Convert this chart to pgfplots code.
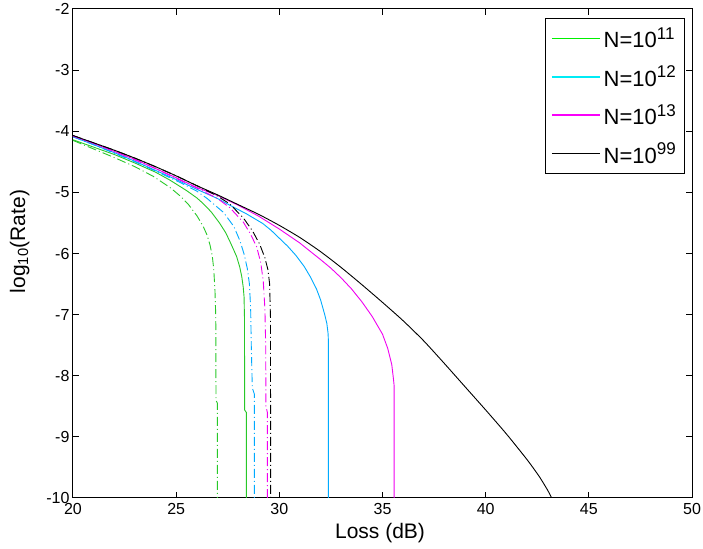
\documentclass[border=0pt]{standalone}
\usepackage{fontspec}
\setmainfont{Liberation Sans}
\usepackage{pgfplots}
\pgfplotsset{compat=1.18}
\definecolor{cgreen}{RGB}{40,200,40}
\definecolor{cblue}{RGB}{0,170,255}
\definecolor{cmag}{RGB}{240,0,240}
\definecolor{lgreen}{RGB}{0,240,0}
\definecolor{lcyan}{RGB}{0,235,245}
\definecolor{lmag}{RGB}{250,0,250}
\newcommand{\supx}[1]{\raisebox{8.5pt}{\fontsize{17}{17}\selectfont #1}}
\begin{document}
\begin{tikzpicture}
\begin{axis}[
  scale only axis, width=619pt, height=489pt,
  xmin=20, xmax=50, ymin=-10, ymax=-2,
  xtick={20,25,...,50}, ytick={-10,-9,...,-2},
  tick align=inside, major tick length=6pt,
  axis line style={line width=1pt},
  every tick/.style={black, line width=1pt},
  tick label style={font=\fontsize{16}{19}\selectfont},
  xticklabel style={yshift=-1.5pt},
  /pgf/number format/assume math mode=true,
  xlabel={Loss (dB)}, ylabel={log\textsubscript{10}(Rate)},
  label style={font=\fontsize{21}{25}\selectfont},
  xlabel style={at={(axis description cs:0.496,-0.0838)}, anchor=base},
  ylabel style={at={(axis description cs:-0.0775,0.5245)}, anchor=base},
  legend image code/.code={\draw[#1, line width=1.6pt] (0pt,0pt) -- (48pt,0pt);},
  legend style={at={(1,1)}, anchor=north east, xshift=-6.7pt, yshift=-9.3pt,
    draw=black, line width=1pt, font=\fontsize{22}{26}\selectfont,
    inner xsep=6pt, inner ysep=6pt, nodes={inner sep=3pt}, row sep=10.5pt},
  legend cell align=left,
  every axis plot/.append style={line width=0.9pt},
]
\coordinate (SW) at (rel axis cs:0,0);
\coordinate (NE) at (rel axis cs:1,1);
\addlegendimage{lgreen}\addlegendentry{N=10\supx{11}}
\addlegendimage{lcyan}\addlegendentry{N=10\supx{12}}
\addlegendimage{lmag}\addlegendentry{N=10\supx{13}}
\addlegendimage{black}\addlegendentry{N=10\supx{99}}
% solid
\addplot[cgreen, forget plot] coordinates {(20,-4.14) (21,-4.26) (22,-4.38) (23,-4.52) (24,-4.67) (24.7,-4.80) (25.5,-4.97) (26,-5.09) (26.3,-5.18) (26.7,-5.32) (27.1,-5.50) (27.4,-5.66) (27.6,-5.80) (27.8,-5.95) (27.93,-6.05) (28.08,-6.22) (28.18,-6.38) (28.25,-6.55) (28.29,-6.71) (28.31,-7.04) (28.32,-8.56) (28.4,-8.6) (28.4,-10)};
\addplot[cblue, forget plot] coordinates {(20,-4.09) (21,-4.22) (22,-4.35) (23,-4.49) (24,-4.64) (25,-4.79) (26,-4.95) (27,-5.10) (27.6,-5.21) (28.4,-5.35) (29.2,-5.51) (29.6,-5.62) (30,-5.75) (30.4,-5.88) (30.8,-6.03) (31.2,-6.21) (31.5,-6.38) (31.8,-6.58) (32,-6.76) (32.2,-7.0) (32.3,-7.14) (32.36,-7.3) (32.38,-7.44) (32.38,-10)};
\addplot[cmag, forget plot] coordinates {(20,-4.08) (21,-4.20) (22,-4.33) (23,-4.46) (24,-4.61) (25,-4.76) (26,-4.92) (27,-5.05) (28,-5.21) (29,-5.39) (30,-5.60) (31,-5.83) (32,-6.10) (32.5,-6.24) (33,-6.40) (33.5,-6.58) (34,-6.79) (34.5,-7.03) (35,-7.32) (35.25,-7.55) (35.45,-7.82) (35.53,-8.05) (35.56,-8.15) (35.56,-10)};
\addplot[black, forget plot, smooth, tension=0.4] coordinates {(20,-4.07) (21,-4.19) (22,-4.31) (23,-4.44) (24,-4.58) (25,-4.73) (26,-4.89) (27,-5.04) (28,-5.20) (29,-5.36) (30,-5.54) (31,-5.74) (32,-5.97) (33,-6.23) (34,-6.51) (35,-6.80) (36,-7.10) (37,-7.43) (38,-7.80) (39,-8.18) (40,-8.56) (41,-8.95) (42,-9.37) (42.6,-9.65) (43,-9.87) (43.2,-10)};
% dash-dot
\addplot[cgreen, forget plot, dash pattern=on 9pt off 3pt on 1pt off 3pt] coordinates {(20,-4.15) (21,-4.29) (22,-4.43) (23,-4.58) (23.9,-4.74) (24.7,-4.92) (25.2,-5.06) (25.6,-5.2) (26.0,-5.38) (26.3,-5.55) (26.5,-5.70) (26.64,-5.86) (26.75,-6.04) (26.82,-6.25) (26.88,-6.60) (26.92,-7.04) (26.93,-8.4) (27.0,-8.45) (27.0,-10)};
\addplot[cblue, forget plot, dash pattern=on 9pt off 3pt on 1pt off 3pt] coordinates {(20,-4.09) (21,-4.22) (22,-4.36) (23,-4.50) (24,-4.65) (25.2,-4.84) (26,-4.98) (26.5,-5.1) (27.3,-5.33) (27.8,-5.56) (28.1,-5.80) (28.3,-6.02) (28.45,-6.25) (28.55,-6.5) (28.61,-6.9) (28.64,-7.5) (28.69,-8.2) (28.79,-8.3) (28.79,-10)};
\addplot[cmag, forget plot, dash pattern=on 9pt off 3pt on 1pt off 3pt] coordinates {(20,-4.08) (21,-4.20) (22,-4.33) (23,-4.47) (24,-4.61) (25,-4.77) (26,-4.93) (27,-5.10) (27.6,-5.25) (28.26,-5.49) (28.6,-5.68) (28.9,-5.89) (29.1,-6.15) (29.22,-6.45) (29.3,-6.9) (29.34,-7.5) (29.35,-8.5) (29.42,-8.6) (29.42,-10)};
\addplot[black, forget plot, dash pattern=on 9pt off 3pt on 1pt off 3pt] coordinates {(20,-4.07) (21,-4.19) (22,-4.31) (23,-4.44) (24,-4.58) (25,-4.73) (26,-4.89) (27,-5.06) (27.6,-5.19) (28.26,-5.42) (28.7,-5.63) (29.05,-5.85) (29.3,-6.07) (29.45,-6.27) (29.53,-6.5) (29.57,-7.04) (29.58,-10)};
\end{axis}
\pgfresetboundingbox
\useasboundingbox ([shift={(-73pt,-51pt)}]SW) rectangle ([shift={(11pt,9pt)}]NE);
\end{tikzpicture}
\end{document}
